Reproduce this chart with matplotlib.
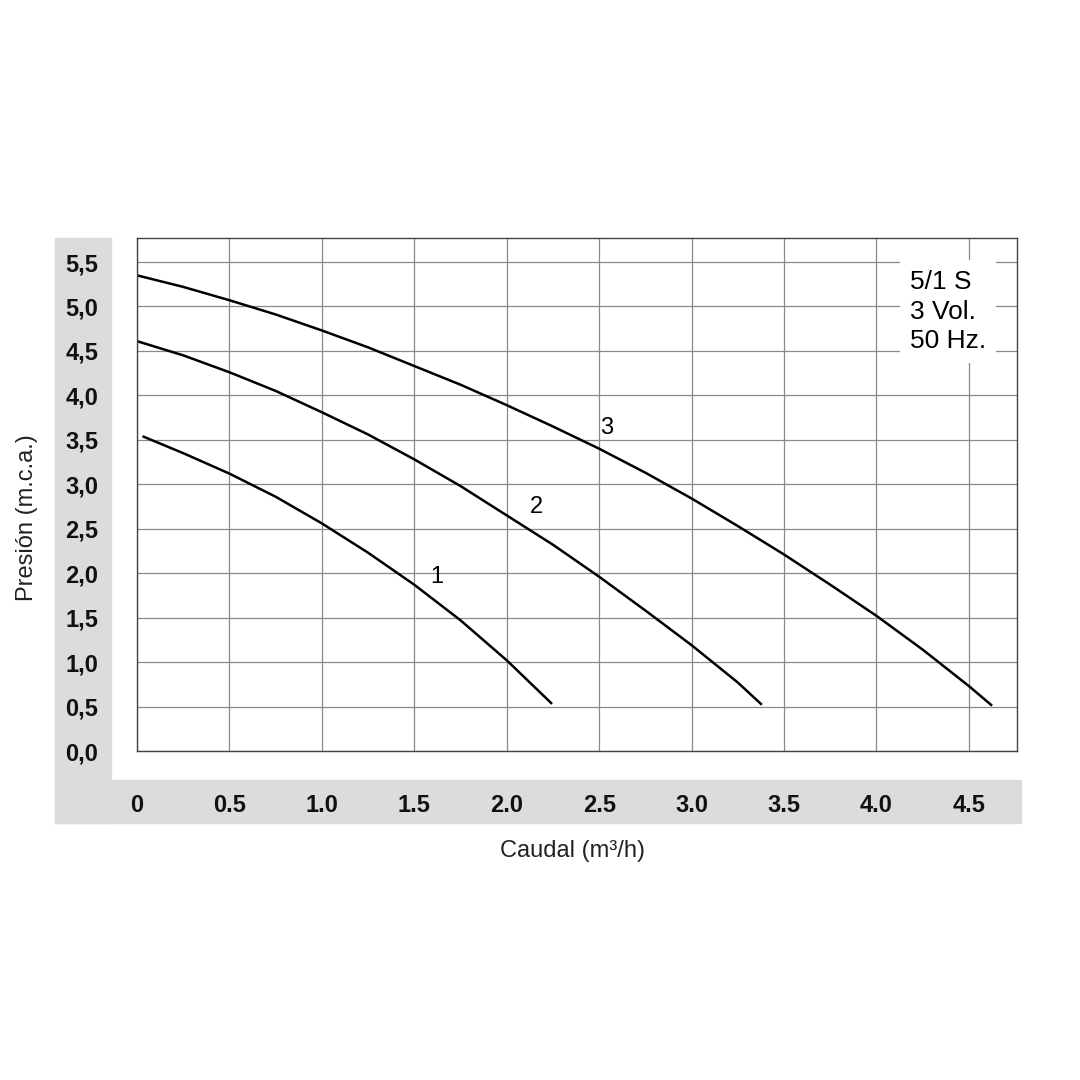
import matplotlib.pyplot as plt
from matplotlib.patches import Rectangle

plt.rcParams['font.family'] = ['Liberation Sans', 'DejaVu Sans']

# curvas (caudal m3/h -> presion m.c.a.)
q1 = [0.03, 0.25, 0.5, 0.75, 1.0, 1.25, 1.5, 1.75, 2.0, 2.245]
h1 = [3.54, 3.35, 3.12, 2.86, 2.56, 2.23, 1.87, 1.47, 1.02, 0.53]

q2 = [0.0, 0.25, 0.5, 0.75, 1.0, 1.25, 1.5, 1.75, 2.0, 2.25, 2.5, 2.75, 3.0, 3.25, 3.38]
h2 = [4.61, 4.45, 4.26, 4.05, 3.81, 3.56, 3.28, 2.98, 2.65, 2.32, 1.96, 1.58, 1.19, 0.77, 0.52]

q3 = [0.0, 0.25, 0.5, 0.75, 1.0, 1.25, 1.5, 1.75, 2.0, 2.25, 2.5, 2.75, 3.0,
      3.25, 3.5, 3.75, 4.0, 4.25, 4.5, 4.625]
h3 = [5.35, 5.22, 5.07, 4.91, 4.73, 4.54, 4.33, 4.12, 3.89, 3.65, 3.40, 3.13, 2.84,
      2.53, 2.21, 1.87, 1.52, 1.14, 0.73, 0.51]

curve_names = ['1', '2', '3']
name_pos = [(1.62, 1.96), (2.16, 2.74), (2.54, 3.63)]

x_ticks = [0, 0.5, 1.0, 1.5, 2.0, 2.5, 3.0, 3.5, 4.0, 4.5]
x_labels = ['0', '0.5', '1.0', '1.5', '2.0', '2.5', '3.0', '3.5', '4.0', '4.5']
y_ticks = [0, 0.5, 1.0, 1.5, 2.0, 2.5, 3.0, 3.5, 4.0, 4.5, 5.0, 5.5]
y_labels = ['0,0', '0,5', '1,0', '1,5', '2,0', '2,5', '3,0', '3,5', '4,0', '4,5', '5,0', '5,5']

W = H = 1080
fig = plt.figure(figsize=(10.8, 10.8), dpi=100)

# banda gris en L (detras de los ejes)
gray = '#dcdcdc'
fig.patches.append(Rectangle((55 / W, 1 - 823 / H), 56 / W, (823 - 238) / H,
                             transform=fig.transFigure, color=gray, zorder=-5))
fig.patches.append(Rectangle((55 / W, 1 - 823 / H), (1021 - 55) / W, 43 / H,
                             transform=fig.transFigure, color=gray, zorder=-5))

ax = fig.add_axes([137 / W, 1 - 751 / H, (1017 - 137) / W, (751 - 238) / H])
ax.set_xlim(0, 4.76)
ax.set_ylim(0, 5.77)

ax.set_xticks(x_ticks)
ax.set_xticklabels(x_labels, fontsize=17, fontweight='bold', color='#111111')
ax.set_yticks(y_ticks)
ax.set_yticklabels(y_labels, fontsize=17, fontweight='bold', color='#111111')
ax.tick_params(axis='both', length=0)
ax.tick_params(axis='x', pad=31)
ax.tick_params(axis='y', pad=28)
ax.grid(True, color='#8a8a8a', linewidth=0.9)
ax.set_axisbelow(True)
for s in ax.spines.values():
    s.set_color('#444444')
    s.set_linewidth(1.0)

for q, h in [(q1, h1), (q2, h2), (q3, h3)]:
    ax.plot(q, h, color='black', linewidth=1.8, solid_capstyle='butt',
            solid_joinstyle='round')

for name, (px, py) in zip(curve_names, name_pos):
    ax.text(px, py, name, fontsize=17, ha='center', va='center', color='black')

ax.text(4.18, 4.94, '5/1 S\n3 Vol.\n50 Hz.', fontsize=19, ha='left', va='center',
        linespacing=1.3, color='black',
        bbox=dict(facecolor='white', edgecolor='none', pad=7))

fig.text(573 / W, 1 - 851 / H, 'Caudal (m³/h)', fontsize=17, ha='center', va='center',
         color='#222222')
fig.text(27 / W, 1 - 518 / H, 'Presión (m.c.a.)', fontsize=17, ha='center', va='center',
         rotation=90, color='#222222')

fig.savefig('out.png', dpi=100)
